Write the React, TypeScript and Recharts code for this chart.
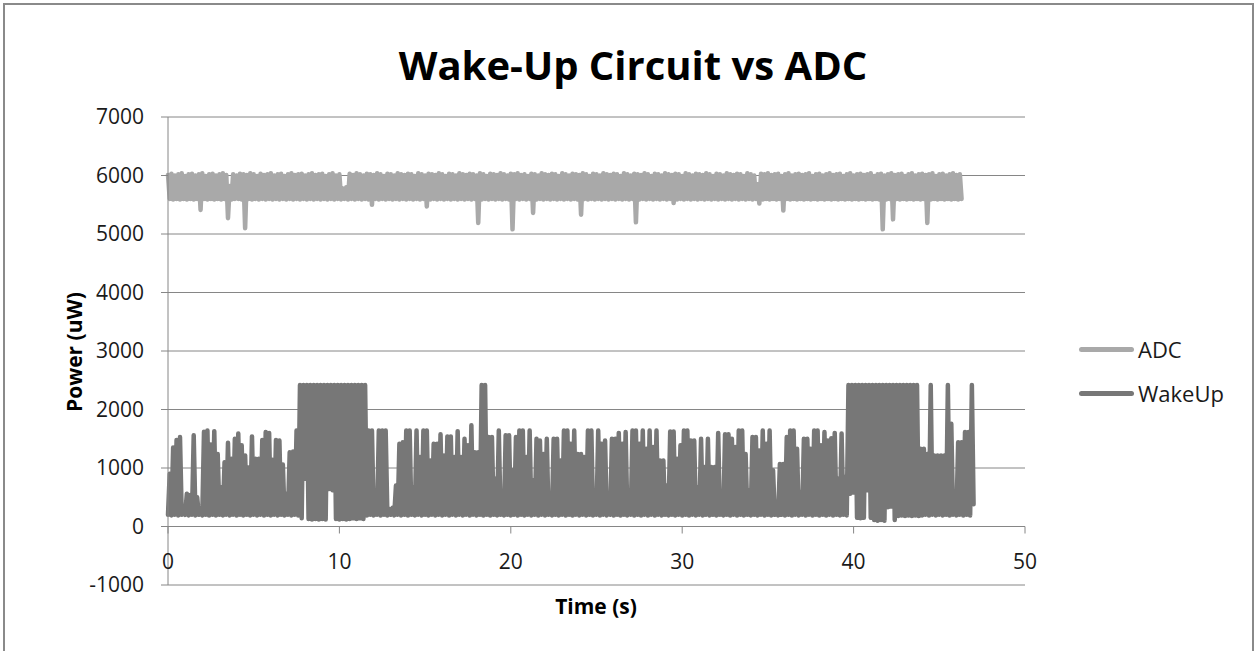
import React from "react";
import { LineChart, Line, XAxis, YAxis, CartesianGrid } from "recharts";

// sample clock of the logger, seconds between readings
const STEP = 0.1;

// ADC power (uW), one reading per STEP from t = 0
const ADC = [
  6010, 5600, 6030, 5590, 6000, 5600, 6020, 5590, 6040, 5600,
  5990, 5590, 6020, 5600, 6030, 5590, 6000, 5600, 6020, 5410,
  6040, 5600, 5990, 5590, 6020, 5600, 6030, 5590, 6000, 5600,
  6020, 5590, 6040, 5600, 6010, 5270, 5820, 5590, 6020, 5600,
  6000, 5600, 6030, 5590, 6020, 5100, 6010, 5600, 6040, 5590,
  6020, 5600, 5990, 5590, 6030, 5600, 6010, 5590, 6020, 5600,
  6040, 5590, 6000, 5600, 6020, 5590, 6030, 5600, 5990, 5590,
  6020, 5600, 6040, 5590, 6010, 5600, 6020, 5590, 6030, 5600,
  6000, 5590, 6020, 5600, 6040, 5590, 6010, 5600, 6020, 5590,
  6030, 5600, 5990, 5590, 6020, 5600, 6040, 5590, 6000, 5600,
  6020, 5590, 5780, 5600, 5800, 5590, 6030, 5600, 6010, 5590,
  6040, 5600, 6020, 5590, 6000, 5600, 6030, 5590, 6020, 5500,
  6010, 5600, 6040, 5590, 6020, 5600, 5990, 5590, 6030, 5600,
  6020, 5590, 6000, 5600, 6040, 5590, 6020, 5600, 6010, 5590,
  6030, 5600, 6020, 5590, 5990, 5600, 6040, 5590, 6020, 5600,
  6000, 5470, 6030, 5590, 6020, 5600, 6010, 5590, 6040, 5600,
  6020, 5590, 5990, 5600, 6030, 5590, 6020, 5600, 6000, 5590,
  6040, 5600, 6020, 5590, 6010, 5600, 6030, 5590, 6020, 5600,
  6000, 5190, 6040, 5590, 6020, 5600, 5990, 5590, 6030, 5600,
  6020, 5590, 6010, 5600, 6040, 5590, 6020, 5600, 6000, 5590,
  6030, 5080, 6020, 5600, 6040, 5590, 6010, 5600, 6020, 5590,
  5990, 5600, 6030, 5360, 6020, 5590, 6000, 5600, 6040, 5590,
  6020, 5600, 6010, 5590, 6030, 5600, 6020, 5590, 5990, 5600,
  6040, 5590, 6020, 5600, 6000, 5590, 6030, 5600, 6020, 5590,
  6010, 5330, 6040, 5600, 6020, 5590, 5990, 5600, 6030, 5590,
  6020, 5600, 6000, 5590, 6040, 5600, 6020, 5590, 6010, 5600,
  6030, 5590, 6020, 5600, 5990, 5590, 6040, 5600, 6020, 5590,
  6000, 5600, 6030, 5200, 6020, 5590, 6010, 5600, 6040, 5590,
  6020, 5600, 5990, 5590, 6030, 5600, 6020, 5590, 6000, 5600,
  6040, 5590, 6020, 5600, 6010, 5530, 6030, 5590, 6020, 5600,
  5990, 5590, 6040, 5600, 6020, 5590, 6000, 5600, 6030, 5590,
  6020, 5600, 6010, 5590, 6040, 5600, 6020, 5590, 5990, 5600,
  6030, 5590, 6020, 5600, 6000, 5590, 6040, 5600, 6020, 5590,
  6010, 5600, 6030, 5590, 6020, 5600, 5990, 5590, 6040, 5600,
  6020, 5590, 6000, 5600, 5850, 5520, 6030, 5590, 6020, 5600,
  6040, 5590, 6010, 5600, 6020, 5590, 6030, 5600, 5990, 5400,
  6020, 5600, 6040, 5590, 6000, 5600, 6020, 5590, 6030, 5600,
  6010, 5590, 6020, 5600, 6040, 5590, 5990, 5600, 6020, 5590,
  6030, 5600, 6000, 5590, 6020, 5600, 6040, 5590, 6010, 5600,
  6020, 5590, 6030, 5600, 5990, 5590, 6020, 5600, 6040, 5590,
  6000, 5600, 6020, 5590, 6030, 5600, 6010, 5590, 6020, 5600,
  6040, 5590, 5990, 5600, 6020, 5590, 6030, 5080, 6000, 5590,
  6020, 5600, 6040, 5250, 6010, 5600, 6020, 5590, 6030, 5600,
  5990, 5590, 6020, 5600, 6040, 5590, 6000, 5600, 6020, 5590,
  6030, 5600, 6010, 5190, 6020, 5590, 6040, 5600, 5990, 5590,
  6020, 5600, 6030, 5590, 6000, 5600, 6020, 5590, 6040, 5600,
  6010, 5590, 6020, 5600,
];

// wake-up circuit power (uW), same clock
const WAKEUP = [
  200, 900, 190, 1350, 200, 1480, 190, 1530, 200, 250,
  200, 560, 190, 540, 200, 1560, 190, 500, 200, 260,
  190, 1620, 200, 1640, 190, 1400, 200, 1630, 190, 1240,
  200, 670, 190, 1100, 200, 1430, 190, 1160, 200, 1500,
  190, 1590, 200, 1390, 190, 1215, 200, 1010, 190, 1540,
  200, 1160, 190, 1160, 200, 1480, 190, 1615, 200, 1600,
  190, 1140, 200, 1480, 190, 1470, 200, 1060, 190, 560,
  200, 1270, 190, 1280, 200, 1640, 190, 2420, 140, 2420,
  815, 2420, 130, 2420, 120, 2420, 130, 2420, 120, 2420,
  130, 2420, 120, 2420, 640, 2420, 620, 2420, 130, 2420,
  120, 2420, 130, 2420, 120, 2420, 130, 2420, 140, 2420,
  130, 2420, 140, 2420, 130, 2420, 190, 1640, 200, 1640,
  190, 560, 200, 1640, 190, 1640, 200, 1640, 190, 300,
  200, 320, 190, 700, 200, 1415, 190, 1440, 200, 1640,
  190, 1640, 200, 670, 190, 1640, 200, 1190, 190, 1640,
  200, 1640, 190, 1130, 200, 1415, 190, 1415, 200, 1575,
  190, 1215, 200, 1540, 190, 1540, 200, 1190, 190, 1630,
  200, 1190, 190, 1500, 200, 1390, 190, 1730, 200, 1270,
  190, 1270, 200, 2420, 190, 2420, 200, 1530, 190, 1530,
  200, 815, 190, 1640, 200, 590, 190, 1560, 200, 1560,
  190, 960, 200, 1530, 190, 1640, 200, 1640, 190, 1190,
  200, 1640, 190, 790, 200, 1500, 190, 1470, 200, 1240,
  190, 1500, 200, 500, 190, 1500, 200, 1500, 190, 1130,
  200, 1640, 190, 1640, 200, 1415, 190, 1640, 200, 1240,
  190, 1240, 200, 1190, 190, 1640, 200, 1640, 190, 560,
  200, 1640, 190, 1415, 200, 1470, 190, 330, 200, 1500,
  190, 1500, 200, 1600, 190, 1415, 200, 1615, 190, 475,
  200, 1640, 190, 1640, 200, 1415, 190, 1640, 200, 1330,
  190, 1640, 200, 1360, 190, 1640, 200, 1130, 190, 1130,
  200, 700, 190, 1625, 200, 1625, 190, 1160, 200, 1390,
  190, 1640, 200, 1640, 190, 1470, 200, 1470, 190, 670,
  200, 1500, 190, 1015, 200, 1500, 190, 1015, 200, 1015,
  190, 1600, 200, 530, 190, 1575, 200, 1575, 190, 1500,
  200, 1360, 190, 1640, 200, 1640, 190, 1240, 200, 620,
  190, 1530, 200, 1530, 190, 1300, 200, 1640, 190, 1415,
  200, 1640, 190, 960, 200, 300, 190, 1070, 200, 1070,
  190, 1530, 200, 1640, 190, 1640, 200, 1330, 190, 590,
  200, 1500, 190, 1500, 200, 1330, 190, 1640, 200, 1640,
  190, 1390, 200, 1615, 190, 1470, 200, 1510, 190, 1600,
  200, 815, 190, 1590, 200, 845, 190, 2420, 560, 2420,
  580, 2420, 150, 2420, 140, 2420, 150, 2420, 620, 2420,
  150, 2420, 110, 2420, 100, 2420, 110, 2420, 100, 2420,
  330, 2420, 340, 2420, 110, 2420, 180, 2420, 190, 2420,
  180, 2420, 190, 2420, 180, 2420, 190, 2420, 180, 1330,
  190, 1330, 200, 1240, 190, 2420, 200, 1215, 190, 1215,
  200, 1215, 190, 1215, 200, 2420, 190, 1755, 200, 350,
  190, 1440, 200, 1440, 190, 1615, 200, 1615, 190, 2420,
  380,
];

const X_TICKS = [0, 10, 20, 30, 40, 50];
const Y_TICKS = [-1000, 0, 1000, 2000, 3000, 4000, 5000, 6000, 7000];

const SERIES = [
  { key: "adc", name: "ADC", color: "#a9a9a9" },
  { key: "wakeUp", name: "WakeUp", color: "#777777" },
];

const chartData = WAKEUP.map((w, i) => ({
  t: Number((i * STEP).toFixed(1)),
  wakeUp: w,
  adc: i < ADC.length ? ADC[i] : null,
}));

const W = 1257;
const H = 651;
const PLOT_LEFT = 168;
const PLOT_TOP = 117;
const PLOT_RIGHT = 1025;
const PLOT_BOTTOM = 585;
const ZERO_Y = PLOT_TOP + ((PLOT_BOTTOM - PLOT_TOP) * 7000) / 8000;
const FONT = "'Open Sans', 'Noto Sans', sans-serif";
const AXIS = "#868686";

function XTick(props: any) {
  const { x, payload } = props;
  return (
    <g>
      <line x1={x} x2={x} y1={ZERO_Y} y2={ZERO_Y + 7} stroke={AXIS} />
      <text x={x} y={ZERO_Y + 42} textAnchor="middle" fontSize={21} fontFamily={FONT} fill="#1a1a1a">
        {payload.value}
      </text>
    </g>
  );
}

export default function App() {
  return (
    <div style={{ position: "absolute", left: 0, top: 0, width: W, height: H, background: "#fff", overflow: "hidden" }}>
      <div
        style={{
          position: "absolute",
          left: 3,
          top: 3,
          width: W - 10,
          height: H + 20,
          border: "2px solid #8a8a8a",
        }}
      />
      <LineChart
        width={W}
        height={H}
        data={chartData}
        margin={{ top: PLOT_TOP, left: PLOT_LEFT - 60, right: W - PLOT_RIGHT, bottom: H - PLOT_BOTTOM - 30 }}
      >
        <CartesianGrid vertical={false} stroke={AXIS} />
        <XAxis
          dataKey="t"
          type="number"
          domain={[0, 50]}
          ticks={X_TICKS}
          axisLine={false}
          tickLine={false}
          height={30}
          tick={<XTick />}
          interval={0}
        />
        <YAxis
          type="number"
          domain={[-1000, 7000]}
          ticks={Y_TICKS}
          width={60}
          axisLine={{ stroke: AXIS }}
          tickLine={{ stroke: AXIS }}
          tickSize={7}
          tickMargin={17}
          tick={{ fontSize: 21, fontFamily: FONT, fill: "#1a1a1a" }}
          interval={0}
        />
        {SERIES.map((s) => (
          <Line
            key={s.key}
            type="linear"
            dataKey={s.key}
            name={s.name}
            stroke={s.color}
            strokeWidth={4.5}
            strokeLinejoin="round"
            strokeLinecap="round"
            dot={false}
            activeDot={false}
            isAnimationActive={false}
          />
        ))}
      </LineChart>
      <div
        style={{
          position: "absolute",
          left: 1079,
          top: 327,
          fontFamily: FONT,
          fontSize: 22,
          color: "#1a1a1a",
        }}
      >
        {SERIES.map((s) => (
          <div key={s.key} style={{ display: "flex", alignItems: "center", height: 44 }}>
            <div style={{ width: 55, height: 5, borderRadius: 3, background: s.color, marginRight: 4 }} />
            <span>{s.name}</span>
          </div>
        ))}
      </div>
      <svg width={W} height={H} style={{ position: "absolute", left: 0, top: 0, pointerEvents: "none" }}>
        <text x={633} y={80} textAnchor="middle" fontSize={40} fontWeight={700} fontFamily={FONT} fill="#000">
          Wake-Up Circuit vs ADC
        </text>
        <text
          transform="translate(82, 352) rotate(-90)"
          textAnchor="middle"
          fontSize={21}
          fontWeight={700}
          fontFamily={FONT}
          fill="#000"
        >
          Power (uW)
        </text>
        <text x={596} y={614} textAnchor="middle" fontSize={21} fontWeight={700} fontFamily={FONT} fill="#000">
          Time (s)
        </text>
      </svg>
    </div>
  );
}
